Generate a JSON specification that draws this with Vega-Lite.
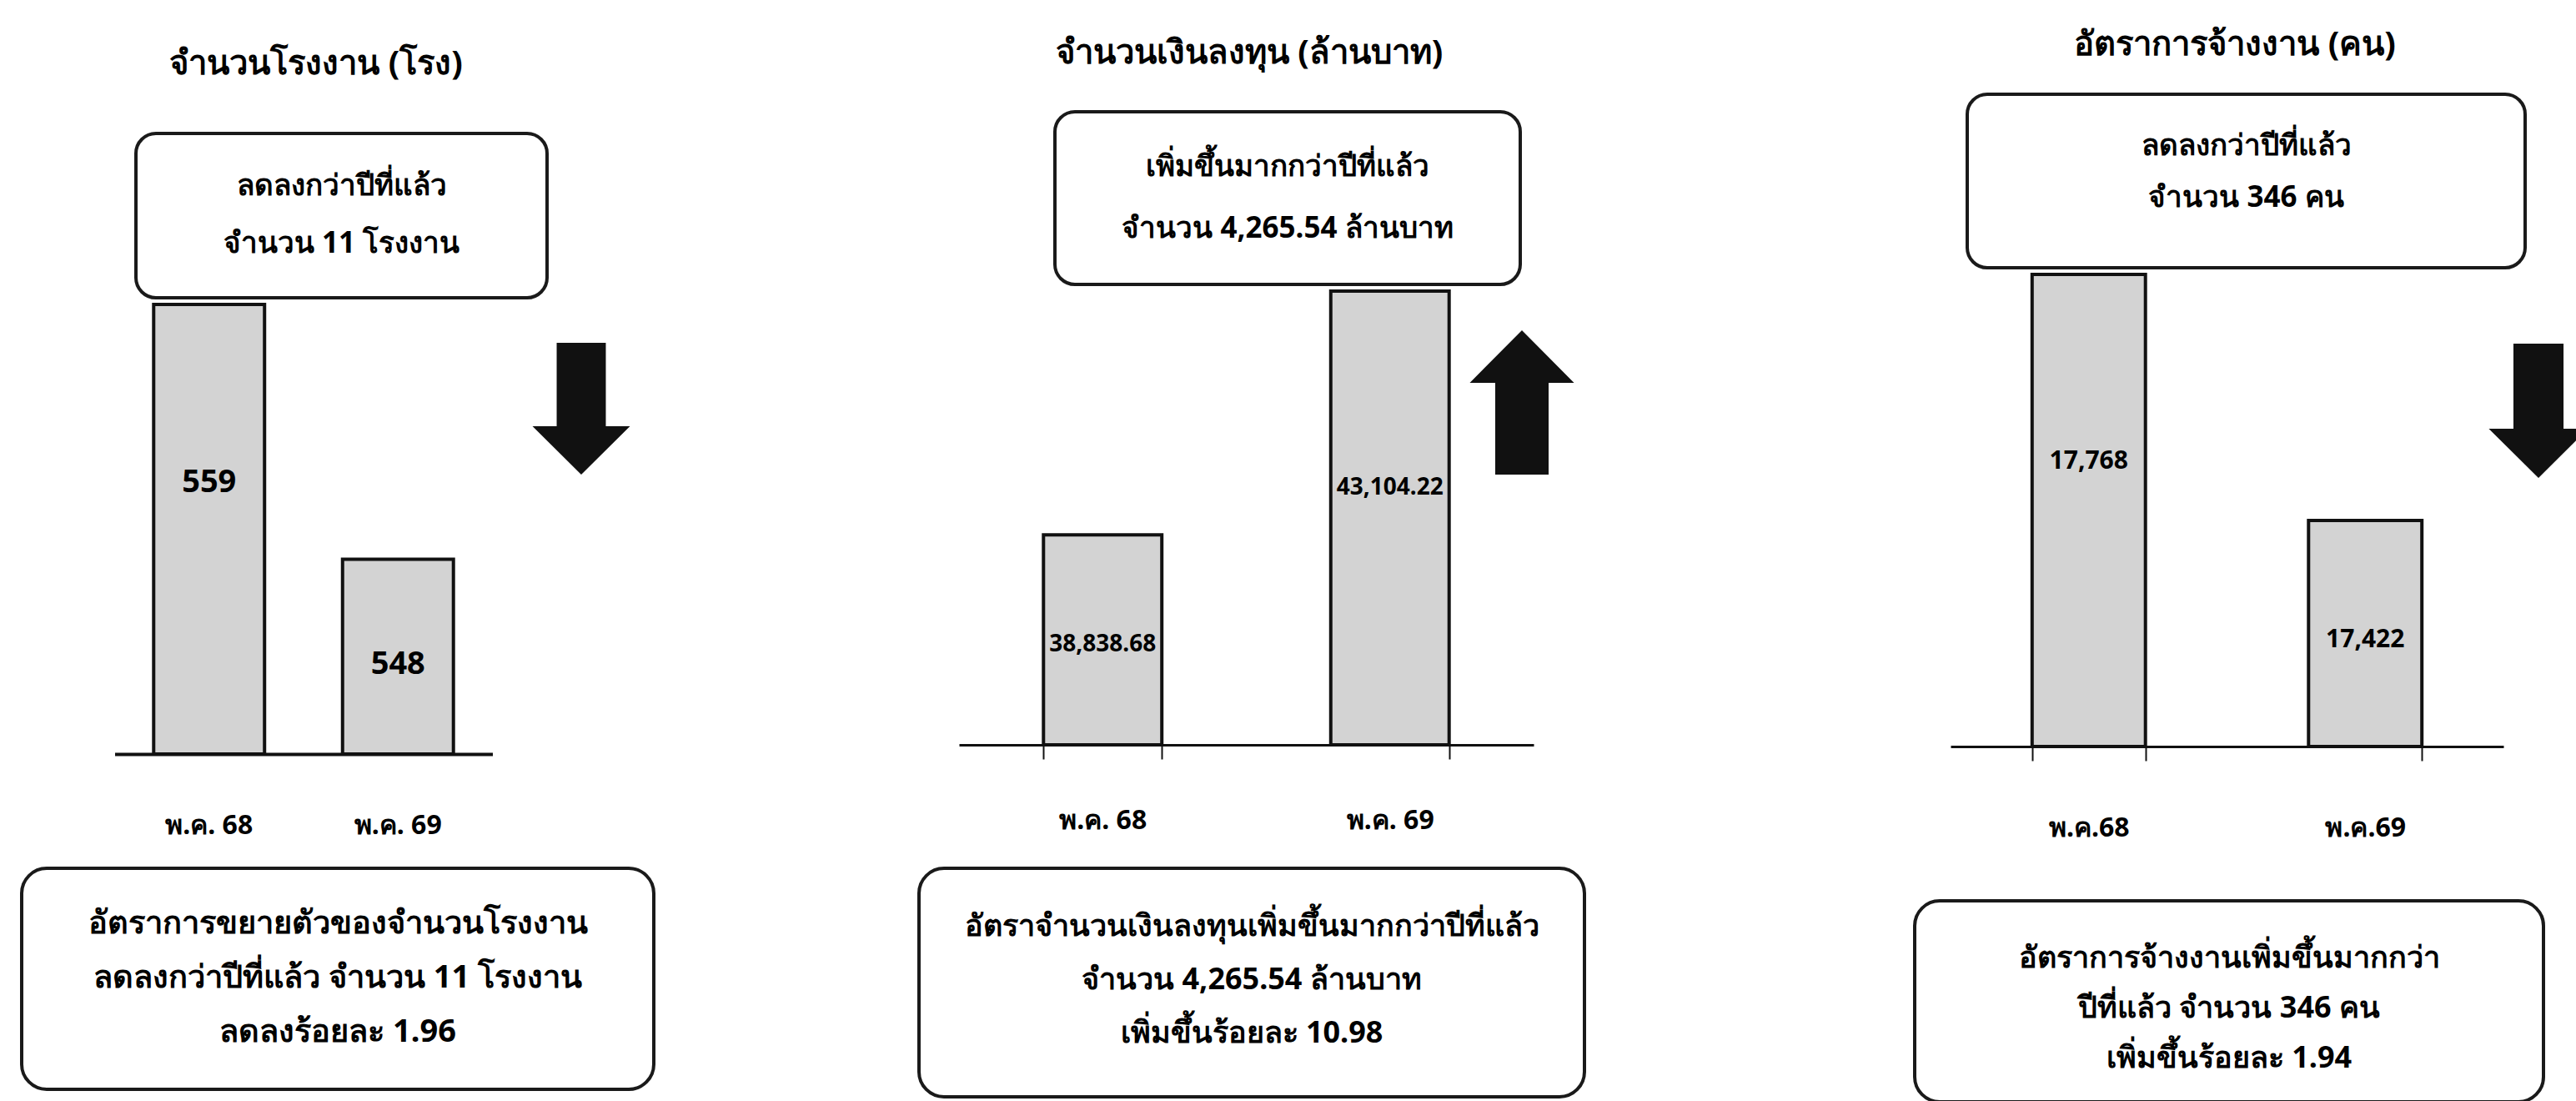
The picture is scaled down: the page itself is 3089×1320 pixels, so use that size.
{
  "$schema": "https://vega.github.io/schema/vega-lite/v6.json",
  "padding": 0,
  "background": "white",
  "spacing": 0,
  "config": {
    "view": {"stroke": null},
    "font": "Noto Sans",
    "text": {"color": "#000", "fontWeight": "bold"}
  },
  "hconcat": [
    {
      "spacing": 0,
      "vconcat": [
        {"width": 758, "height": 154, "data": {"values": [{"t": "จำนวนโรงงาน (โรง)"}]}, "mark": {"type": "text", "fontSize": 40}, "encoding": {"text": {"field": "t"}}},
        {"spacing": 0, "bounds": "flush", "hconcat": [
          {"width": 163, "height": 1, "data": {"values": [{}]}, "mark": {"type": "text", "text": ""}},
          {"width": 493, "height": 197, "view": {"fill": "white", "stroke": "#1a1a1a", "strokeWidth": 4, "cornerRadius": 24},
           "data": {"values": [{"t": "ลดลงกว่าปีที่แล้ว\nจำนวน 11 โรงงาน"}]},
           "mark": {"type": "text", "lineBreak": "\n", "lineHeight": 69, "fontSize": 35, "dy": -36}, "encoding": {"text": {"field": "t"}}}
        ]},
        {"spacing": 6.5, "bounds": "flush", "hconcat": [
          {"width": 130.5, "height": 1, "data": {"values": [{}]}, "mark": {"type": "text", "text": ""}},
          {"width": 453, "height": 539,
           "data": {"values": [{"year": "พ.ค. 68", "value": 559}, {"year": "พ.ค. 69", "value": 548}]},
           "encoding": {
             "x": {"field": "year", "type": "nominal", "sort": null, "scale": {"paddingInner": 0.413, "paddingOuter": 0.2065},
                   "axis": {"title": null, "ticks": false, "labelAngle": 0, "labelPadding": 85, "labelBaseline": "middle", "labelFontSize": 32, "labelFontWeight": "bold", "labelColor": "#000", "domainColor": "#111", "domainWidth": 4, "minExtent": 131}},
             "y": {"field": "value", "type": "quantitative", "scale": {"domain": [539.6, 559], "zero": false, "nice": false}, "axis": null}
           },
           "layer": [
             {"mark": {"type": "bar", "fill": "#d3d3d3", "stroke": "#111", "strokeWidth": 4}, "encoding": {"y2": {"datum": 539.6}}},
             {"transform": [{"filter": {"field": "year", "equal": "พ.ค. 68"}}], "mark": {"type": "text", "baseline": "middle", "dy": 214, "fontSize": 38}, "encoding": {"text": {"field": "value", "type": "quantitative", "format": ","}}},
             {"transform": [{"filter": {"field": "year", "equal": "พ.ค. 69"}}], "mark": {"type": "text", "baseline": "middle", "dy": 126, "fontSize": 38}, "encoding": {"text": {"field": "value", "type": "quantitative", "format": ","}}}
           ]},
          {"width": 200, "height": 250, "data": {"values": [{"trend": "down"}]},
           "mark": {"type": "point", "shape": "M-0.373,-1L0.373,-1L0.373,0.266L0.74,0.266L0,1L-0.74,0.266L-0.373,0.266Z", "size": 24964, "filled": true, "fill": "#111", "strokeWidth": 0, "opacity": 1},
           "encoding": {}}
        ]},
        {"spacing": 0, "bounds": "flush", "hconcat": [
          {"width": 26, "height": 1, "data": {"values": [{}]}, "mark": {"type": "text", "text": ""}},
          {"width": 758, "height": 265, "view": {"fill": "white", "stroke": "#1a1a1a", "strokeWidth": 4, "cornerRadius": 30},
           "data": {"values": [{"t": "อัตราการขยายตัวของจำนวนโรงงาน\nลดลงกว่าปีที่แล้ว จำนวน 11 โรงงาน\nลดลงร้อยละ 1.96"}]},
           "mark": {"type": "text", "lineBreak": "\n", "lineHeight": 65, "fontSize": 38, "dy": -66}, "encoding": {"text": {"field": "t"}}}
        ]},
        {"width": 1000, "height": 1, "data": {"values": [{}]}, "mark": {"type": "text", "text": ""}}
      ]
    },
    {
      "spacing": 0,
      "vconcat": [
        {"width": 996, "height": 128, "data": {"values": [{"t": "จำนวนเงินลงทุน (ล้านบาท)"}]}, "mark": {"type": "text", "fontSize": 40}, "encoding": {"text": {"field": "t"}}},
        {"spacing": 0, "bounds": "flush", "hconcat": [
          {"width": 265, "height": 1, "data": {"values": [{}]}, "mark": {"type": "text", "text": ""}},
          {"width": 558, "height": 207, "view": {"fill": "white", "stroke": "#1a1a1a", "strokeWidth": 4, "cornerRadius": 24},
           "data": {"values": [{"t": "เพิ่มขึ้นมากกว่าปีที่แล้ว\nจำนวน 4,265.54 ล้านบาท"}]},
           "mark": {"type": "text", "lineBreak": "\n", "lineHeight": 74, "fontSize": 35, "dy": -38}, "encoding": {"text": {"field": "t"}}}
        ]},
        {"spacing": 0, "bounds": "flush", "hconcat": [
          {"width": 150, "height": 1, "data": {"values": [{}]}, "mark": {"type": "text", "text": ""}},
          {"width": 574.5, "height": 544,
           "data": {"values": [{"year": "พ.ค. 68", "value": 38838.68}, {"year": "พ.ค. 69", "value": 43104.22}]},
           "encoding": {
             "x": {"field": "year", "type": "nominal", "sort": null, "scale": {"range": [0, 689], "paddingInner": 0.588, "paddingOuter": 0.294},
                   "axis": {"title": null, "ticks": true, "tickBand": "extent", "tickSize": 17, "tickWidth": 2, "tickColor": "#111", "labelAngle": 0, "labelPadding": 73, "labelBaseline": "middle", "labelFontSize": 32, "labelFontWeight": "bold", "labelColor": "#000", "domainColor": "#111", "domainWidth": 3, "minExtent": 142}},
             "y": {"field": "value", "type": "quantitative", "scale": {"domain": [35161, 43104.22], "zero": false, "nice": false}, "axis": null}
           },
           "layer": [
             {"mark": {"type": "bar", "fill": "#d3d3d3", "stroke": "#111", "strokeWidth": 4}, "encoding": {"y2": {"datum": 35161}}},
             {"transform": [{"filter": {"field": "year", "equal": "พ.ค. 69"}}], "mark": {"type": "text", "baseline": "middle", "dy": 236, "fontSize": 28}, "encoding": {"text": {"field": "value", "type": "quantitative", "format": ",.2f"}}},
             {"transform": [{"filter": {"field": "year", "equal": "พ.ค. 68"}}], "mark": {"type": "text", "baseline": "middle", "dy": 132, "fontSize": 28}, "encoding": {"text": {"field": "value", "type": "quantitative", "format": ",.2f"}}}
           ]},
          {"width": 200, "height": 267, "data": {"values": [{"trend": "up"}]},
           "mark": {"type": "point", "shape": "M0,-1L0.723,-0.272L0.37,-0.272L0.37,1L-0.37,1L-0.37,-0.272L-0.723,-0.272Z", "size": 29929, "filled": true, "fill": "#111", "strokeWidth": 0, "opacity": 1},
           "encoding": {}}
        ]},
        {"spacing": 0, "bounds": "flush", "hconcat": [
          {"width": 102, "height": 1, "data": {"values": [{}]}, "mark": {"type": "text", "text": ""}},
          {"width": 798, "height": 274, "view": {"fill": "white", "stroke": "#1a1a1a", "strokeWidth": 4, "cornerRadius": 30},
           "data": {"values": [{"t": "อัตราจำนวนเงินลงทุนเพิ่มขึ้นมากกว่าปีที่แล้ว\nจำนวน 4,265.54 ล้านบาท\nเพิ่มขึ้นร้อยละ 10.98"}]},
           "mark": {"type": "text", "lineBreak": "\n", "lineHeight": 64, "fontSize": 36, "dy": -67}, "encoding": {"text": {"field": "t"}}}
        ]},
        {"width": 1200, "height": 1, "data": {"values": [{}]}, "mark": {"type": "text", "text": ""}}
      ]
    },
    {
      "spacing": 0,
      "vconcat": [
        {"width": 960, "height": 107, "data": {"values": [{"t": "อัตราการจ้างงาน (คน)"}]}, "mark": {"type": "text", "fontSize": 40}, "encoding": {"text": {"field": "t"}}},
        {"spacing": 0, "bounds": "flush", "hconcat": [
          {"width": 159, "height": 1, "data": {"values": [{}]}, "mark": {"type": "text", "text": ""}},
          {"width": 669, "height": 208, "view": {"fill": "white", "stroke": "#1a1a1a", "strokeWidth": 4, "cornerRadius": 24},
           "data": {"values": [{"t": "ลดลงกว่าปีที่แล้ว\nจำนวน 346 คน"}]},
           "mark": {"type": "text", "lineBreak": "\n", "lineHeight": 62, "fontSize": 35, "dy": -42}, "encoding": {"text": {"field": "t"}}}
        ]},
        {"spacing": 0, "bounds": "flush", "hconcat": [
          {"width": 139, "height": 1, "data": {"values": [{}]}, "mark": {"type": "text", "text": ""}},
          {"width": 605, "height": 566,
           "data": {"values": [{"year": "พ.ค.68", "value": 17768}, {"year": "พ.ค.69", "value": 17422}]},
           "encoding": {
             "x": {"field": "year", "type": "nominal", "sort": null, "scale": {"range": [0, 663], "paddingInner": 0.59, "paddingOuter": 0.295},
                   "axis": {"title": null, "ticks": true, "tickBand": "extent", "tickSize": 17, "tickWidth": 2, "tickColor": "#111", "labelAngle": 0, "labelPadding": 80, "labelBaseline": "middle", "labelFontSize": 32, "labelFontWeight": "bold", "labelColor": "#000", "domainColor": "#111", "domainWidth": 3, "minExtent": 179}},
             "y": {"field": "value", "type": "quantitative", "scale": {"domain": [17104, 17768], "zero": false, "nice": false}, "axis": null}
           },
           "layer": [
             {"mark": {"type": "bar", "fill": "#d3d3d3", "stroke": "#111", "strokeWidth": 4}, "encoding": {"y2": {"datum": 17104}}},
             {"transform": [{"filter": {"field": "year", "equal": "พ.ค.68"}}], "mark": {"type": "text", "baseline": "middle", "dy": 224, "fontSize": 30}, "encoding": {"text": {"field": "value", "type": "quantitative", "format": ","}}},
             {"transform": [{"filter": {"field": "year", "equal": "พ.ค.69"}}], "mark": {"type": "text", "baseline": "middle", "dy": 143, "fontSize": 30}, "encoding": {"text": {"field": "value", "type": "quantitative", "format": ","}}}
           ]},
          {"width": 200, "height": 327, "data": {"values": [{"trend": "down"}]},
           "mark": {"type": "point", "shape": "M-0.373,-1L0.373,-1L0.373,0.266L0.74,0.266L0,1L-0.74,0.266L-0.373,0.266Z", "size": 25921, "filled": true, "fill": "#111", "strokeWidth": 0, "opacity": 1},
           "encoding": {}}
        ]},
        {"spacing": 0, "bounds": "flush", "hconcat": [
          {"width": 96, "height": 1, "data": {"values": [{}]}, "mark": {"type": "text", "text": ""}},
          {"width": 754, "height": 241, "view": {"fill": "white", "stroke": "#1a1a1a", "strokeWidth": 4, "cornerRadius": 30},
           "data": {"values": [{"t": "อัตราการจ้างงานเพิ่มขึ้นมากกว่า\nปีที่แล้ว จำนวน 346 คน\nเพิ่มขึ้นร้อยละ 1.94"}]},
           "mark": {"type": "text", "lineBreak": "\n", "lineHeight": 60, "fontSize": 36, "dy": -52}, "encoding": {"text": {"field": "t"}}}
        ]},
        {"width": 889, "height": 1, "data": {"values": [{}]}, "mark": {"type": "text", "text": ""}}
      ]
    }
  ]
}
